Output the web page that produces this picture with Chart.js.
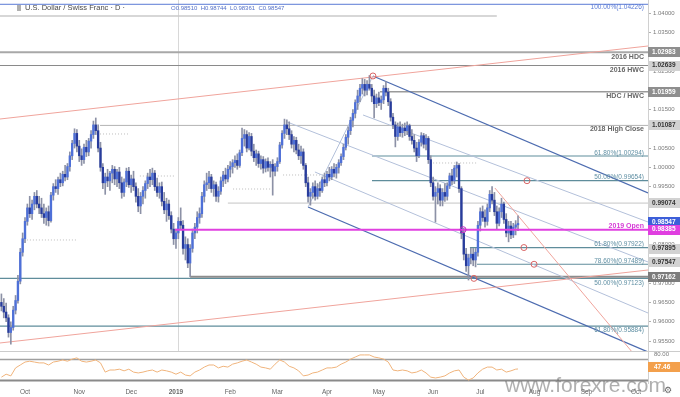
<!DOCTYPE html>
<html>
<head>
<meta charset="utf-8">
<script src="https://cdn.jsdelivr.net/npm/chart.js@4.4.1/dist/chart.umd.min.js"></script>
<style>
  body { margin: 0; background: #fff; }
  #wrap { position: relative; width: 680px; height: 397px; overflow: hidden; }
  canvas { position: absolute; left: 0; }
</style>
</head>
<body>
<div id="wrap">
  <canvas id="main" width="680" height="352" style="top:0"></canvas>
  <canvas id="osc" width="680" height="45" style="top:352px"></canvas>
</div>
<script>
const FONT = '"Liberation Sans", Arial, sans-serif'
Chart.defaults.font.family = FONT

// daily bars, first one is 10 trading days before 1 Oct 2018
const firstBar = -10
const opens = [
  .9650,.9640,.9625,.9610,.9572,.9585,.9630,.9655,.9705,.9780,
  .9815,.9860,.9895,.9880,.9905,.9925,.9905,.9895,.9880,.9870,
  .9885,.9862,.9928,.9950,.9945,.9968,.9960,.9982,.9975,1.0002,
  1.0030,1.0062,1.0088,1.0055,1.0030,1.0020,1.0052,1.0040,1.0068,1.0085,
  1.0110,1.0095,1.0050,1.0000,.9960,.9975,.9965,.9985,.9995,.9970,
  .9988,.9960,.9935,.9962,.9990,.9955,.9970,.9950,.9925,.9900,
  .9925,.9940,.9958,.9975,.9968,.9985,.9950,.9935,.9950,.9912,
  .9890,.9905,.9875,.9840,.9815,.9830,.9860,.9850,.9790,.9800,
  .9752,.9790,.9830,.9845,.9870,.9880,.9925,.9955,.9960,.9975,
  .9945,.9955,.9925,.9938,.9965,.9980,.9970,.9995,1.0002,1.0012,
  1.0018,1.0005,1.0038,1.0075,1.0085,1.0050,1.0080,1.0042,1.0025,1.0035,
  1.0010,1.0020,.9998,1.0015,1.0000,1.0008,.9990,1.0002,1.0015,1.0058,
  1.0088,1.0110,1.0100,1.0085,1.0060,1.0070,1.0045,1.0030,1.0040,1.0005,
  .9960,.9925,.9935,.9950,.9925,.9945,.9940,.9968,.9960,.9982,
  .9975,.9995,.9985,1.0000,1.0012,1.0028,1.0052,1.0078,1.0095,1.0122,
  1.0140,1.0168,1.0185,1.0205,1.0215,1.0200,1.0215,1.0205,1.0185,1.0165,
  1.0180,1.0168,1.0175,1.0205,1.0195,1.0170,1.0130,1.0110,1.0080,1.0105,
  1.0090,1.0102,1.0095,1.0108,1.0080,1.0070,1.0050,1.0030,1.0065,1.0082,
  1.0060,1.0075,1.0020,.9960,.9925,.9935,.9945,.9915,.9935,.9925,
  .9952,.9978,.9965,.9998,1.0005,.9945,.9830,.9775,.9745,.9765,
  .9775,.9760,.9780,.9850,.9885,.9870,.9860,.9895,.9930,.9915,
  .9885,.9855,.9885,.9905,.9865,.9830,.9848,.9825,.9845,.98510
]
const highs = [
  .9672,.9660,.9648,.9618,.9600,.9640,.9668,.9720,.9790,.9830,
  .9870,.9905,.9925,.9915,.9935,.9940,.9925,.9920,.9905,.9895,
  .9900,.9935,.9958,.9968,.9975,.9985,.9990,1.0005,1.0010,1.0040,
  1.0070,1.0100,1.0098,1.0070,1.0048,1.0060,1.0070,1.0075,1.0095,1.0120,
  1.0128,1.0110,1.0065,1.0010,.9985,.9995,.9990,1.0005,1.0002,.9995,
  1.0000,.9975,.9970,.9998,1.0000,.9980,.9990,.9960,.9945,.9935,
  .9950,.9965,.9985,.9995,.9998,.9992,.9972,.9960,.9962,.9935,
  .9920,.9915,.9885,.9855,.9840,.9870,.9895,.9862,.9820,.9815,
  .9800,.9840,.9855,.9885,.9895,.9935,.9965,.9985,.9990,.9982,
  .9965,.9962,.9950,.9975,.9990,.9998,1.0005,1.0015,1.0020,1.0030,
  1.0035,1.0045,1.0102,1.0098,1.0095,1.0090,1.0088,1.0060,1.0045,1.0042,
  1.0030,1.0028,1.0022,1.0025,1.0015,1.0020,1.0010,1.0025,1.0065,1.0095,
  1.0125,1.0123,1.0118,1.0095,1.0080,1.0078,1.0060,1.0055,1.0048,1.0010,
  .9975,.9945,.9960,.9965,.9958,.9962,.9975,.9985,.9990,1.0000,
  1.0002,1.0010,1.0008,1.0020,1.0035,1.0060,1.0085,1.0105,1.0130,1.0150,
  1.0175,1.0200,1.0215,1.0230,1.0228,1.0225,1.0238,1.0215,1.0200,1.0190,
  1.0195,1.0185,1.0212,1.0222,1.0205,1.0178,1.0140,1.0118,1.0115,1.0118,
  1.0112,1.0115,1.0118,1.0112,1.0098,1.0085,1.0065,1.0072,1.0090,1.0088,
  1.0085,1.0080,1.0030,.9975,.9950,.9960,.9955,.9945,.9958,.9960,
  .9985,.9995,1.0005,1.0014,1.0010,.9950,.9842,.9790,.9775,.9790,
  .9790,.9790,.9860,.9895,.9900,.9890,.9905,.9940,.9950,.9935,
  .9900,.9895,.9920,.9910,.9880,.9860,.9860,.9855,.9862,.98744
]
const lows = [
  .9628,.9610,.9600,.9560,.9542,.9578,.9620,.9648,.9698,.9770,
  .9805,.9850,.9870,.9865,.9890,.9895,.9880,.9870,.9855,.9850,
  .9848,.9858,.9915,.9935,.9930,.9950,.9952,.9965,.9968,.9990,
  1.0020,1.0050,1.0040,1.0015,1.0005,1.0010,1.0028,1.0030,1.0050,1.0075,
  1.0085,1.0040,.9990,.9945,.9930,.9950,.9940,.9960,.9955,.9950,
  .9945,.9920,.9925,.9950,.9948,.9935,.9940,.9910,.9885,.9880,
  .9905,.9920,.9945,.9950,.9955,.9940,.9925,.9920,.9900,.9880,
  .9860,.9865,.9830,.9800,.9790,.9815,.9840,.9775,.9760,.9740,
  .9717,.9780,.9815,.9830,.9855,.9870,.9910,.9940,.9945,.9935,
  .9925,.9912,.9910,.9930,.9950,.9958,.9962,.9975,.9985,1.0000,
  .9995,1.0000,1.0030,1.0055,1.0040,1.0045,1.0030,1.0015,1.0005,1.0000,
  .9995,.9985,.9988,.9990,.9975,.9928,.9978,.9990,1.0010,1.0050,
  1.0075,1.0085,1.0072,1.0050,1.0040,1.0035,1.0020,1.0010,.9995,.9950,
  .9910,.9902,.9920,.9915,.9918,.9925,.9935,.9950,.9952,.9965,
  .9968,.9975,.9972,.9985,1.0005,1.0020,1.0045,1.0060,1.0085,1.0105,
  1.0128,1.0150,1.0170,1.0190,1.0185,1.0188,1.0200,1.0170,1.0128,1.0155,
  1.0160,1.0150,1.0165,1.0185,1.0160,1.0120,1.0100,1.0053,1.0070,1.0080,
  1.0078,1.0082,1.0085,1.0070,1.0060,1.0040,1.0015,1.0025,1.0055,1.0050,
  1.0045,1.0010,.9950,.9915,.9858,.9905,.9900,.9900,.9912,.9915,
  .9945,.9955,.9958,.9975,.9935,.9815,.9760,.9730,.9708,.9750,
  .9745,.9742,.9770,.9835,.9860,.9845,.9850,.9885,.9905,.9875,
  .9840,.9848,.9870,.9855,.9820,.9807,.9815,.9818,.9825,.98361
]
const closes = [
  .9640,.9625,.9610,.9572,.9585,.9630,.9655,.9705,.9780,.9815,
  .9860,.9895,.9880,.9905,.9925,.9905,.9895,.9880,.9870,.9885,
  .9862,.9928,.9950,.9945,.9968,.9960,.9982,.9975,1.0002,1.0030,
  1.0062,1.0088,1.0055,1.0030,1.0020,1.0052,1.0040,1.0068,1.0085,1.0110,
  1.0095,1.0050,1.0000,.9960,.9975,.9965,.9985,.9995,.9970,.9988,
  .9960,.9935,.9962,.9990,.9955,.9970,.9950,.9925,.9900,.9925,
  .9940,.9958,.9975,.9968,.9985,.9950,.9935,.9950,.9912,.9890,
  .9905,.9875,.9840,.9815,.9830,.9860,.9850,.9790,.9800,.9752,
  .9790,.9830,.9845,.9870,.9880,.9925,.9955,.9960,.9975,.9945,
  .9955,.9925,.9938,.9965,.9980,.9970,.9995,1.0002,1.0012,1.0018,
  1.0005,1.0038,1.0075,1.0085,1.0050,1.0080,1.0042,1.0025,1.0035,1.0010,
  1.0020,.9998,1.0015,1.0000,1.0008,.9990,1.0002,1.0015,1.0058,1.0088,
  1.0110,1.0100,1.0085,1.0060,1.0070,1.0045,1.0030,1.0040,1.0005,.9960,
  .9925,.9935,.9950,.9925,.9945,.9940,.9968,.9960,.9982,.9975,
  .9995,.9985,1.0000,1.0012,1.0028,1.0052,1.0078,1.0095,1.0122,1.0140,
  1.0168,1.0185,1.0205,1.0215,1.0200,1.0215,1.0205,1.0185,1.0165,1.0180,
  1.0168,1.0175,1.0205,1.0195,1.0170,1.0130,1.0110,1.0080,1.0105,1.0090,
  1.0102,1.0095,1.0108,1.0080,1.0070,1.0050,1.0030,1.0065,1.0082,1.0060,
  1.0075,1.0020,.9960,.9925,.9935,.9945,.9915,.9935,.9925,.9952,
  .9978,.9965,.9998,1.0005,.9945,.9830,.9775,.9745,.9765,.9775,
  .9760,.9780,.9850,.9885,.9870,.9860,.9895,.9930,.9915,.9885,
  .9855,.9885,.9905,.9865,.9830,.9848,.9825,.9845,.9851,.98547
]

// RSI, one reading every second bar, then the last bar
const rsi = [
  28,35,31,50,57,64,66,64,62,62,
  57,64,66,69,66,71,74,66,64,66,
  69,62,40,45,45,47,43,47,40,38,
  40,43,45,40,45,43,40,35,40,33,
  31,40,45,52,57,57,50,54,52,59,
  62,66,69,64,59,52,50,47,59,69,
  64,54,50,43,31,33,38,40,45,50,
  50,52,59,64,71,76,81,81,81,76,
  74,71,64,45,43,45,43,38,40,45,
  38,28,26,28,31,38,43,45,28,21,
  26,38,47,52,52,45,47,40,43,47
]
const rsiLast = 47.46
const lastBar = 209

const priceTicks = [0.955, 0.96, 0.965, 0.97, 0.975, 0.98, 0.985, 0.99, 0.995, 1.0,
  1.005, 1.01, 1.015, 1.02, 1.025, 1.03, 1.035, 1.04]
const monthTicks = [0, 23, 45, 64, 87, 107, 128, 150, 173, 193, 216, 238, 259]
const monthLabels = ['Oct', 'Nov', 'Dec', '2019', 'Feb', 'Mar', 'Apr', 'May', 'Jun', 'Jul', 'Aug', 'Sep', 'Oct']
const yearSep = 64.9

// fibonacci levels
const fibPrices = [1.04226, 1.00294, 0.99654, 0.97922, 0.97489, 0.97123, 0.95884]
const fibNames = ['100.00%', '61.80%', '50.00%', '61.80%', '78.60%', '50.00%', '61.80%']
const fibFrom = [-10.6, 147.1, 147.1, 188.6, 191.6, -10.6, -10.6]

// horizontal key levels
const keyPrices = [1.03922, 1.02983, 1.02639, 1.01959, 1.01087, 0.99074, 0.97162]
const keyNames = ['', '2016 HDC', '2016 HWC', 'HDC / HWC', '2018 High Close', '', '']
const keyFrom = [-10.6, -10.6, -10.6, 150.5, 31.8, 86, 70]
const keyTo = [200, 264.1, 264.1, 264.1, 264.1, 264.1, 264.1]

const yearOpen = 0.98385
const yearOpenFrom = 63.6

// trend lines as [bar1, price1, bar2, price2]
const redLines = [[-10.6, 1.01253, 264.1, 1.03145], [-10.6, 0.95449, 264.1, 0.97340], [199.2, 0.99465, 257.7, 0.95190]]
const channelLines = [[147.5, 1.02368, 264.1, 0.99336], [120, 0.98973, 264.1, 0.95216]]
const innerLines = [[143.3, 1.01357, 264.1, 0.98584], [111.1, 1.01176, 264.1, 0.97548],
  [122.9, 0.99880, 264.1, 0.96226], [120, 0.98973, 147.5, 1.02368]]
// short dotted closes as [bar1, bar2, price]
const dotLines = [[31.8, 43.7, 1.00865], [0.8, 22, 0.98118], [48.7, 63.6, 0.99776],
  [109.4, 126.3, 0.99802], [88.2, 105.1, 0.99439], [173, 191.6, 1.00113]]
const ringBars = [147.5, 212.8, 211.5, 215.8, 190.3]
const ringPrices = [1.02368, 0.99654, 0.97922, 0.97489, 0.97123]
const yearRingBar = 185.7

const tagPrices = [1.02983, 1.02639, 1.01959, 1.01087, 0.99074, 0.98547, 0.98385, 0.97895, 0.97547, 0.97162]
const lastPrice = 0.98547
const ohlcText = 'O0.98510  H0.98744  L0.98361  C0.98547'

// styles
const xMin = -10.6, xMax = 264.1
const yMin = 0.95215, yMax = 1.04337
const tagFill = ['#8e8e8e', '#d2d2d2', '#8e8e8e', '#d2d2d2', '#d2d2d2', '#3d5fd9', '#e03ee0', '#d2d2d2', '#d2d2d2', '#7c7c7c']
const tagInk = ['#fff', '#333', '#fff', '#333', '#333', '#fff', '#fff', '#333', '#333', '#fff']
const fibDy = [3, -3, -3.5, -3.3, -3.3, 4.4, 4]
const keyDy = [0, 5, 4.5, 4.3, 3.7, 0, 0]
const keyColor = ['#cacaca', '#a8a8a8', '#8a8a8a', '#9a9a9a', '#b4b4b4', '#c4c4c4', '#8c8c8c']
const keyWidth = [1.5, 2, 1.2, 1.5, 1, 1, 2]

function seg(pts, color, width, order, dash) {
  return { type: 'line', data: pts, borderColor: color, borderWidth: width, pointRadius: 0,
    fill: false, tension: 0, order: order, borderDash: dash || [] }
}

const datasets = []
dotLines.forEach(d => datasets.push(seg([{ x: d[0], y: d[2] }, { x: d[1], y: d[2] }], '#bdbdbd', 1, 12, [1, 2])))
keyPrices.forEach((p, k) => datasets.push(seg([{ x: keyFrom[k], y: p }, { x: keyTo[k], y: p }], keyColor[k], keyWidth[k], 11)))
fibPrices.forEach((p, k) => datasets.push(seg([{ x: fibFrom[k], y: p }, { x: xMax, y: p }], k === 0 ? '#5b7bd5' : '#5f8d9b', k === 0 ? 1 : 1.2, 11)))
redLines.forEach(l => datasets.push(seg([{ x: l[0], y: l[1] }, { x: l[2], y: l[3] }], '#f0a49c', 1, 10)))
innerLines.forEach(l => datasets.push(seg([{ x: l[0], y: l[1] }, { x: l[2], y: l[3] }], '#b3c0da', 1, 10)))
channelLines.forEach(l => datasets.push(seg([{ x: l[0], y: l[1] }, { x: l[2], y: l[3] }], '#4d6cb0', 1.3, 10)))

datasets.push({
  type: 'bar', order: 6, grouped: false, barThickness: 1, backgroundColor: '#8c91a6',
  data: highs.map((h, k) => ({ x: firstBar + k, y: [lows[k], h] }))
})
datasets.push({
  type: 'bar', order: 5, grouped: false, barThickness: 1.7, minBarLength: 1,
  data: opens.map((o, k) => ({ x: firstBar + k, y: [o, closes[k]] })),
  backgroundColor: opens.map((o, k) => closes[k] >= o ? '#4e70d8' : '#283c9c')
})

datasets.push(seg([{ x: yearOpenFrom, y: yearOpen }, { x: xMax, y: yearOpen }], '#e040e0', 2, 3))
datasets.push({
  type: 'line', order: 1, showLine: false, data: ringBars.map((b, k) => ({ x: b, y: ringPrices[k] })),
  pointRadius: 3, pointBorderWidth: 1, pointBorderColor: '#d96464', pointBackgroundColor: 'rgba(255,255,255,0)'
})
datasets.push({
  type: 'line', order: 1, showLine: false, data: [{ x: yearRingBar, y: yearOpen }],
  pointRadius: 3, pointBorderWidth: 1, pointBorderColor: '#c030c0', pointBackgroundColor: 'rgba(255,255,255,0)'
})

const mainOverlay = {
  id: 'mainOverlay',
  beforeDatasetsDraw(chart) {
    const { ctx, chartArea, scales: { x } } = chart
    const px = Math.round(x.getPixelForValue(yearSep)) + 0.5
    ctx.save()
    ctx.strokeStyle = '#d8d8d8'
    ctx.lineWidth = 1
    ctx.beginPath()
    ctx.moveTo(px, 0)
    ctx.lineTo(px, chartArea.bottom)
    ctx.stroke()
    ctx.restore()
  },
  afterDatasetsDraw(chart) {
    const { ctx, chartArea, scales: { y } } = chart
    const rx = chartArea.right - 4
    ctx.save()
    ctx.textAlign = 'right'
    ctx.textBaseline = 'middle'
    ctx.font = '6.5px ' + FONT
    fibPrices.forEach((p, k) => {
      ctx.fillStyle = k === 0 ? '#5b7bd5' : '#5f8fa3'
      ctx.fillText(fibNames[k] + '(' + p.toFixed(5) + ')', rx, y.getPixelForValue(p) + fibDy[k])
    })
    ctx.font = 'bold 7px ' + FONT
    ctx.fillStyle = '#666'
    keyPrices.forEach((p, k) => {
      if (keyNames[k]) ctx.fillText(keyNames[k], rx, y.getPixelForValue(p) + keyDy[k])
    })
    ctx.fillStyle = '#d63bd6'
    ctx.fillText('2019 Open', rx, y.getPixelForValue(yearOpen) - 3.3)

    // legend line
    ctx.textAlign = 'left'
    ctx.fillStyle = '#b0b0b0'
    ctx.fillRect(17, 5, 4, 6)
    ctx.font = '7.5px ' + FONT
    ctx.fillStyle = '#4a4a4a'
    ctx.fillText('U.S. Dollar / Swiss Franc \u00b7 D \u00b7', 25, 8)
    ctx.font = '6px ' + FONT
    ctx.fillStyle = '#5470c8'
    ctx.fillText(ohlcText, 171, 8)
    ctx.restore()
  },
  afterDraw(chart) {
    const { ctx, chartArea, scales: { y } } = chart
    ctx.save()
    ctx.strokeStyle = '#cccccc'
    ctx.lineWidth = 1
    ctx.beginPath()
    ctx.moveTo(0, chartArea.bottom - 0.5)
    ctx.lineTo(680, chartArea.bottom - 0.5)
    ctx.stroke()
    ctx.font = 'bold 6.5px ' + FONT
    ctx.textAlign = 'left'
    ctx.textBaseline = 'middle'
    tagPrices.forEach((p, k) => {
      const py = y.getPixelForValue(p) + (p === lastPrice ? -1 : 0)
      ctx.fillStyle = tagFill[k]
      ctx.fillRect(chartArea.right, Math.round(py) - 5, 32, 10)
      ctx.fillStyle = tagInk[k]
      ctx.fillText(p.toFixed(5), chartArea.right + 4, py)
    })
    ctx.restore()
  }
}

new Chart(document.getElementById('main'), {
  type: 'bar',
  data: { datasets },
  options: {
    responsive: false,
    animation: false,
    devicePixelRatio: 1,
    layout: { padding: 0, autoPadding: false },
    plugins: { legend: { display: false }, tooltip: { enabled: false } },
    scales: {
      x: { type: 'linear', min: xMin, max: xMax, display: false, offset: false },
      y: {
        position: 'right', min: yMin, max: yMax,
        grid: { display: true, drawOnChartArea: false, tickLength: 3, color: '#b0b0b0' },
        border: { color: '#d0d0d0' },
        ticks: { font: { size: 6 }, color: '#7a7a7a', padding: 2, callback: v => v.toFixed(5) },
        afterBuildTicks: s => { s.ticks = priceTicks.map(v => ({ value: v })) },
        afterFit: s => { s.width = 32; s.paddingTop = 0; s.paddingBottom = 0 }
      }
    }
  },
  plugins: [mainOverlay]
})

const oscOverlay = {
  id: 'oscOverlay',
  beforeDatasetsDraw(chart) {
    const { ctx, chartArea, scales: { y } } = chart
    ctx.save()
    ctx.strokeStyle = '#a0a0a0'
    ctx.lineWidth = 1.5
    ctx.beginPath()
    ctx.moveTo(0, y.getPixelForValue(70))
    ctx.lineTo(chartArea.right, y.getPixelForValue(70))
    ctx.stroke()
    ctx.strokeStyle = '#8a8a8a'
    ctx.lineWidth = 2
    ctx.beginPath()
    ctx.moveTo(0, y.getPixelForValue(20))
    ctx.lineTo(chartArea.right, y.getPixelForValue(20))
    ctx.stroke()
    ctx.restore()
  },
  afterDraw(chart) {
    const { ctx, chartArea, scales: { y } } = chart
    ctx.save()
    ctx.textBaseline = 'middle'
    ctx.textAlign = 'left'
    ctx.font = '6px ' + FONT
    ctx.fillStyle = '#7a7a7a'
    ctx.fillText('80.00', chartArea.right + 6, 2.5)
    const py = y.getPixelForValue(rsiLast) - 2
    ctx.fillStyle = '#f3a04c'
    ctx.fillRect(chartArea.right, Math.round(py) - 5, 32, 10)
    ctx.fillStyle = '#fff'
    ctx.font = 'bold 6.5px ' + FONT
    ctx.fillText(rsiLast.toFixed(2), chartArea.right + 6, py)

    ctx.textBaseline = 'alphabetic'
    ctx.font = '21px ' + FONT
    ctx.fillStyle = 'rgba(110,110,110,0.55)'
    ctx.fillText('www.forexre.com', 505, 40)
    ctx.font = '9px "DejaVu Sans"'
    ctx.fillStyle = '#666'
    ctx.fillText('\u2699', 664, 41)
    ctx.restore()
  }
}

new Chart(document.getElementById('osc'), {
  type: 'line',
  data: {
    datasets: [{
      data: rsi.map((v, k) => ({ x: firstBar + 2 * k, y: v })).concat([{ x: lastBar, y: rsiLast }]),
      borderColor: '#f0b47c', borderWidth: 1, pointRadius: 0, tension: 0
    }]
  },
  options: {
    responsive: false,
    animation: false,
    devicePixelRatio: 1,
    layout: { padding: 0, autoPadding: false },
    plugins: { legend: { display: false }, tooltip: { enabled: false } },
    scales: {
      x: {
        type: 'linear', min: xMin, max: xMax, offset: false,
        grid: { display: false, drawTicks: false },
        border: { display: false },
        ticks: {
          autoSkip: false, maxRotation: 0, padding: 5, color: '#666',
          font: c => ({ size: 6.5, weight: monthLabels[c.index] === '2019' ? 'bold' : 'normal' }),
          callback: (v, i) => monthLabels[i]
        },
        afterBuildTicks: s => { s.ticks = monthTicks.map(v => ({ value: v })) },
        afterFit: s => { s.height = 14; s.paddingLeft = 0; s.paddingRight = 0 }
      },
      y: {
        position: 'right', min: 14, max: 88,
        grid: { display: false },
        border: { color: '#d0d0d0' },
        ticks: { display: false },
        afterFit: s => { s.width = 32; s.paddingTop = 0; s.paddingBottom = 0 }
      }
    }
  },
  plugins: [oscOverlay]
})
</script>
</body>
</html>
